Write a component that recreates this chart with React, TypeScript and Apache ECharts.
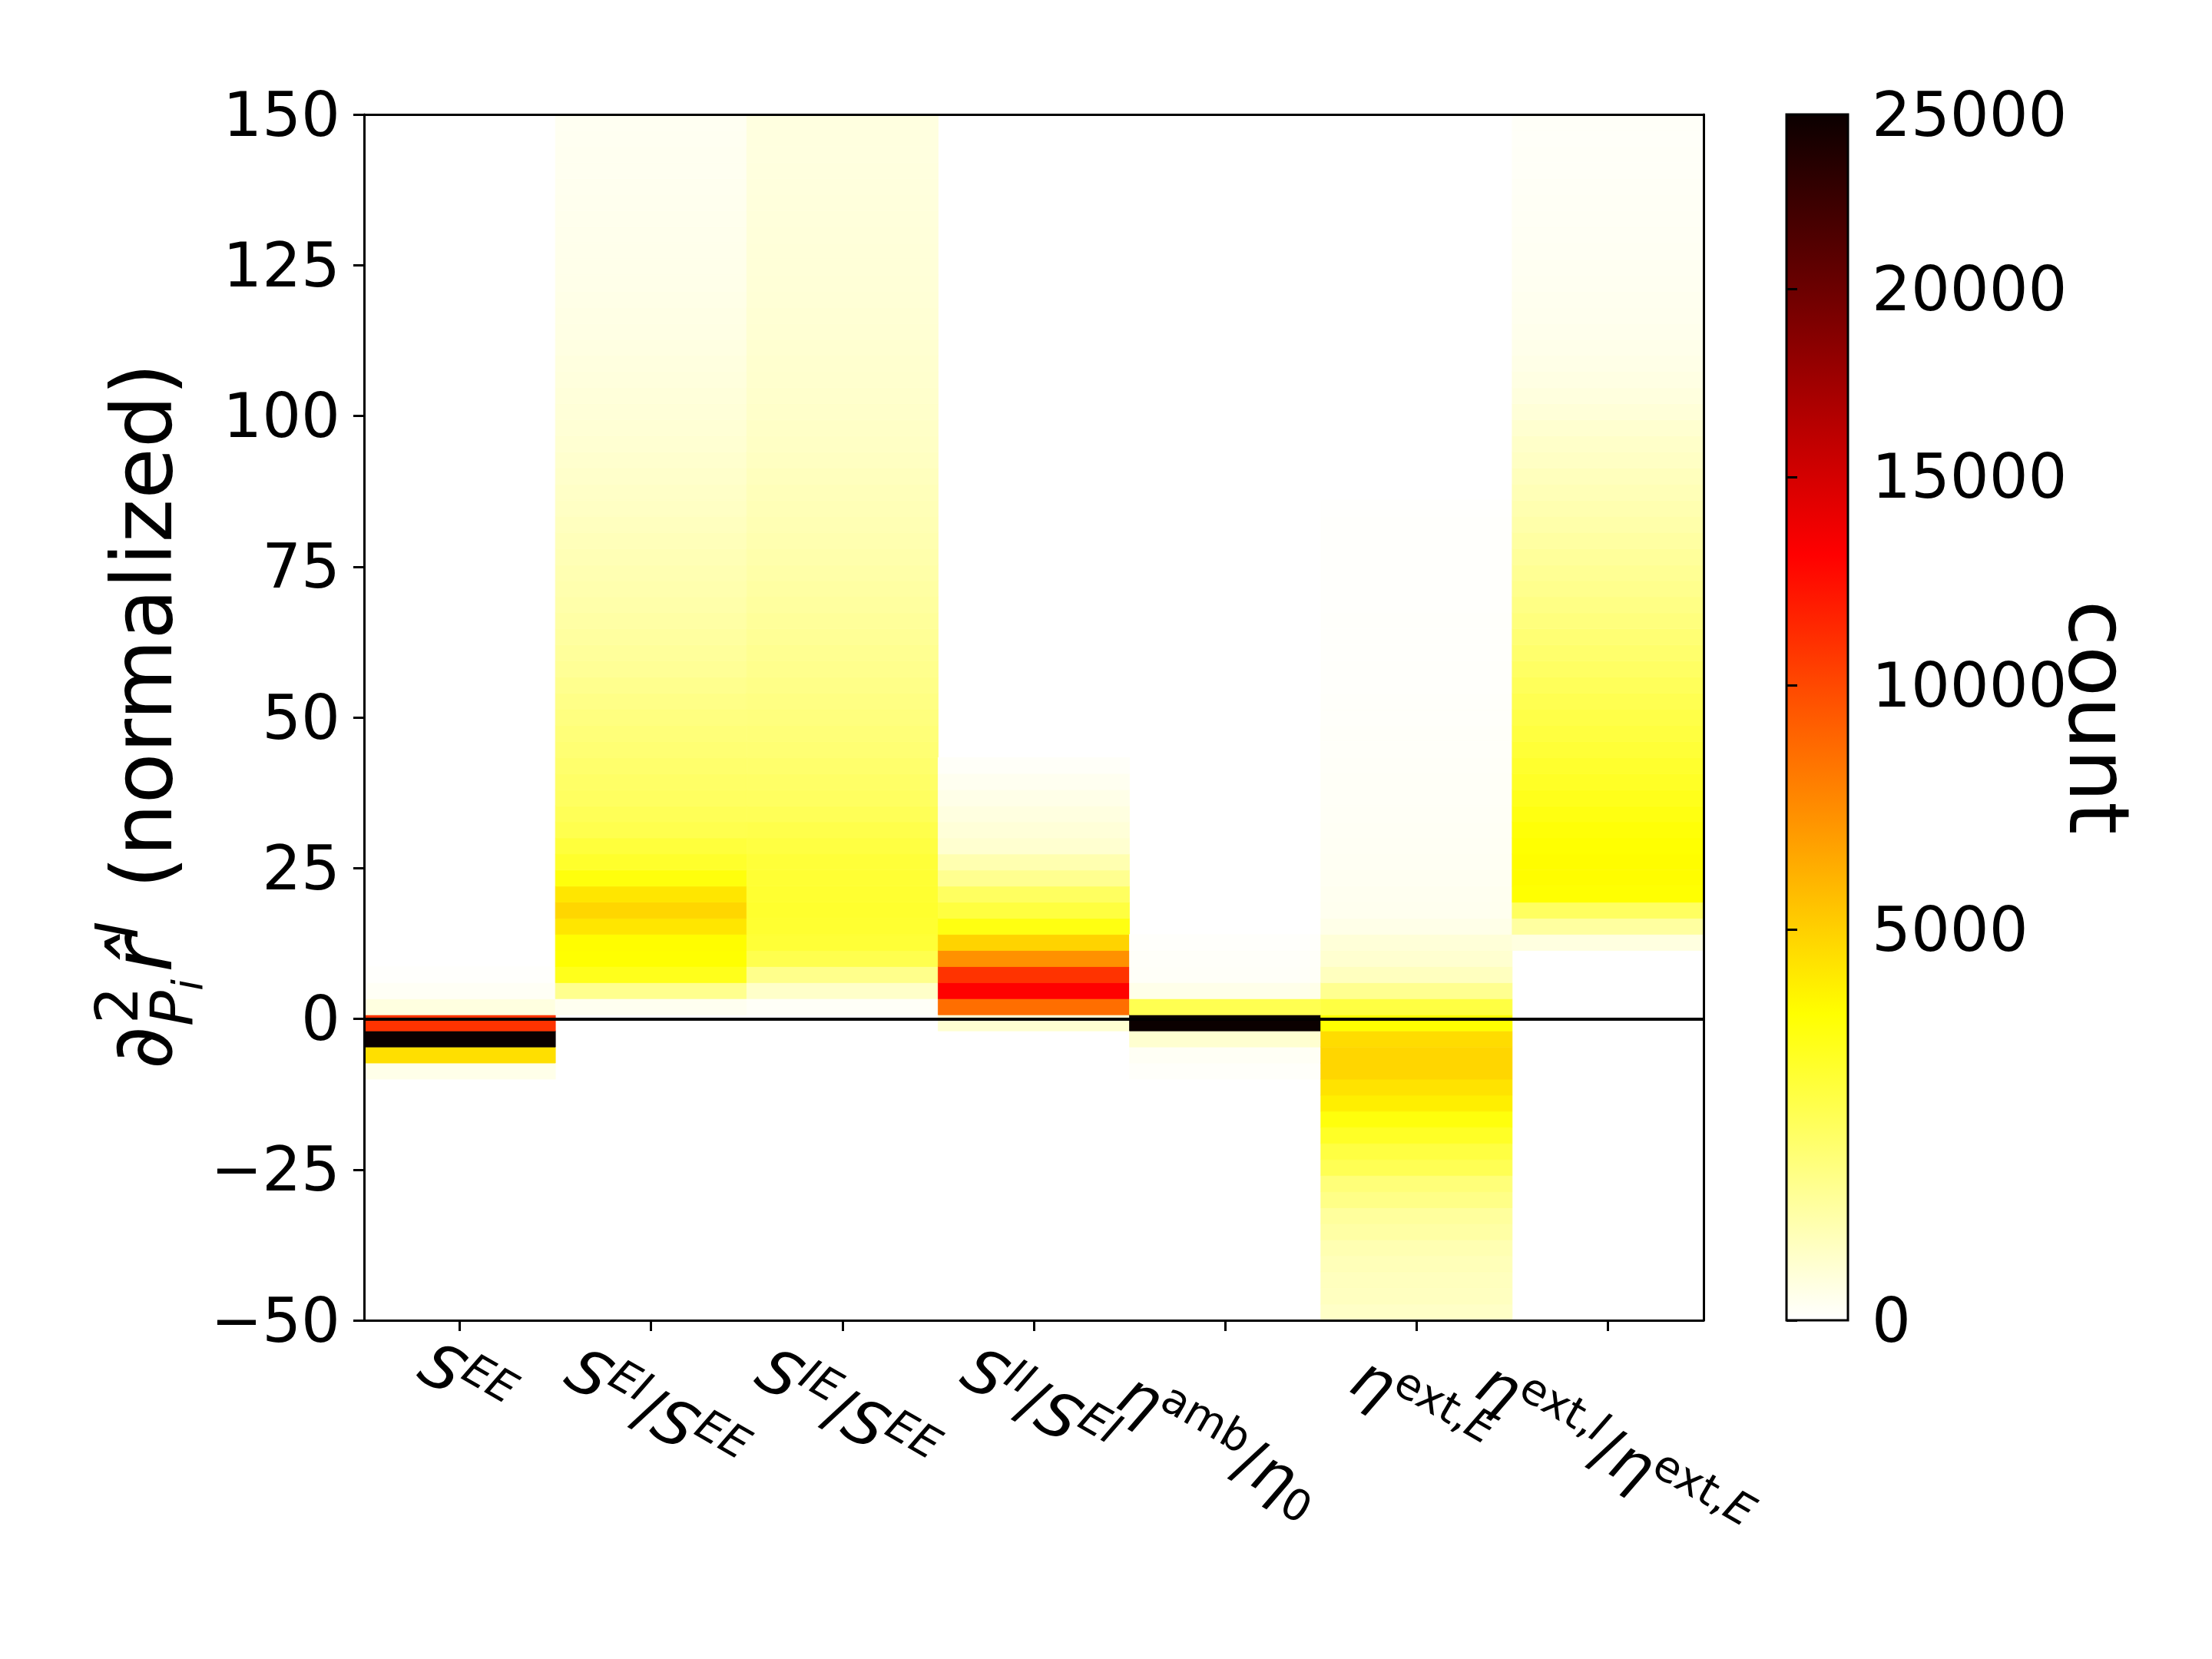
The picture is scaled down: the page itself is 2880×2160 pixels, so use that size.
import { useEffect, useRef } from 'react';
import * as echarts from 'echarts';

const FONT = 'DejaVu Sans';

// parameters on the x axis (plain names) and their math-style tick labels
const PARAMS = ['S^EE', 'S^EI/S^EE', 'S^IE/S^EE', 'S^II/S^EI', 'η^amb/η_0', 'η^ext,E', 'η^ext,I/η^ext,E'];
const PARAM_LABELS = [
  '{it|S}{supI|EE}',
  '{it|S}{supI|EI}{n|/}{it|S}{supI|EE}',
  '{it|S}{supI|IE}{n|/}{it|S}{supI|EE}',
  '{it|S}{supI|II}{n|/}{it|S}{supI|EI}',
  '{it|η}{sup|amb}{n|/}{it|η}{sub|0}',
  '{it|η}{sup|ext,}{supI|E}',
  '{it|η}{sup|ext,}{supI|I}{n|/}{it|η}{sup|ext,}{supI|E}',
];

// histogram along y: 75 bins from -50 to 150
const Y_MIN = -50;
const Y_MAX = 150;
const Y_BINS = 75;
const Y_INTERVAL = 25;

// index of the first listed bin of each column
const FIRST_BIN = [15, 19, 19, 18, 15, 0, 23];

// counts per bin
const COUNTS_S_EE = [110, 4500, 25000, 10900, 175, 36, 5];
const COUNTS_S_EI = [
  60, 1100, 3000, 3500, 3600, 4300, 4800, 4300, 3300, 2700, 2400,
  2100, 1950, 1800, 1700, 1600, 1500, 1400, 1300, 1200, 1100, 1000, 930, 860, 800, 740,
  690, 640, 590, 540, 490, 440, 400, 360, 330, 300, 270, 245, 220, 200, 180,
  160, 145, 132, 120, 110, 100, 92, 85, 78, 72, 67, 63, 59, 56, 53,
];
const COUNTS_S_IE = [
  25, 380, 1150, 2100, 2500, 2600, 2650, 2600, 2550, 2450, 2300,
  2150, 1950, 1800, 1700, 1600, 1500, 1420, 1340, 1260, 1190, 1120, 1060, 1000, 940, 880,
  820, 760, 710, 660, 620, 580, 540, 500, 460, 430, 400, 375, 355, 335, 320,
  305, 290, 275, 262, 250, 240, 232, 224, 216, 208, 200, 193, 186, 180, 175,
];
const COUNTS_S_II = [300, 8500, 13000, 10900, 7200, 4900, 3200, 2330, 1790, 1070, 660, 314, 242, 175, 113, 60, 22];
const COUNTS_ETA_AMB = [12, 36, 314, 25000, 2050, 110, 22, 18, 8];
const COUNTS_ETA_EXT_E = [
  400, 480, 500, 560, 640, 800, 900, 1200, 1400, 2000,
  2300, 2800, 3300, 4000, 4400, 4800, 4800, 4600, 3500, 2300,
  1074, 487, 314, 242, 113, 70, 60, 50, 45, 40,
  35, 30, 27, 24, 21, 18, 15, 13, 12, 11,
  10, 9, 8, 8, 7, 7, 6, 6, 5, 5, 4,
];
const COUNTS_ETA_EXT_I = [
  175, 860, 1790, 3500, 3600, 3600, 3500, 3400, 3200, 3000,
  2800, 2650, 2500, 2330, 2200, 2050, 1900, 1750, 1600, 1480,
  1350, 1230, 1120, 1020, 920, 830, 740, 660, 580, 510,
  440, 380, 314, 240, 190, 150, 120, 100, 85, 75,
  65, 58, 52, 46, 41, 37, 33, 30, 27, 24, 22, 20,
];
const COUNTS = [COUNTS_S_EE, COUNTS_S_EI, COUNTS_S_IE, COUNTS_S_II, COUNTS_ETA_AMB, COUNTS_ETA_EXT_E, COUNTS_ETA_EXT_I];

// colour scale: hot_r with power norm
const COUNT_MAX = 25000;
const GAMMA = 0.7;
const COLORBAR_TICKS = [0, 5000, 10000, 15000, 20000, 25000];

// label centre offsets from the tick foot (layout only)
const LABEL_OFFSET = [[8, 80], [6, 120], [5, 120], [7, 110], [-7, 160], [6, 115], [7, 172]];

const HOT_R = 0.365079;
const HOT_G = 0.746032;
function hot(x: number) {
  const r = x < HOT_R ? 0.0416 + (1 - 0.0416) * x / HOT_R : 1;
  const g = x < HOT_R ? 0 : x < HOT_G ? (x - HOT_R) / (HOT_G - HOT_R) : 1;
  const b = x < HOT_G ? 0 : (x - HOT_G) / (1 - HOT_G);
  return `rgb(${Math.round(r * 255)},${Math.round(g * 255)},${Math.round(b * 255)})`;
}
const norm = (c: number) => Math.min(1, Math.pow(Math.max(c, 0) / COUNT_MAX, GAMMA));
const countColor = (c: number) => hot(1 - norm(c));

const LABEL_RICH = {
  it: { fontSize: 80, fontStyle: 'italic', fontFamily: FONT, lineHeight: 96, verticalAlign: 'middle', fill: '#000' },
  n: { fontSize: 80, fontFamily: FONT, lineHeight: 96, verticalAlign: 'middle', fill: '#000' },
  sup: { fontSize: 56, fontFamily: FONT, lineHeight: 40, verticalAlign: 'top', fill: '#000' },
  supI: { fontSize: 56, fontStyle: 'italic', fontFamily: FONT, lineHeight: 40, verticalAlign: 'top', fill: '#000' },
  sub: { fontSize: 56, fontFamily: FONT, lineHeight: 40, verticalAlign: 'bottom', fill: '#000' },
};

export default function App() {
  const chartRef = useRef<HTMLDivElement>(null);

  useEffect(() => {
    if (!chartRef.current) return;
    const chart = echarts.init(chartRef.current, undefined, { renderer: 'svg' });

    const binW = (Y_MAX - Y_MIN) / Y_BINS;
    const cells: number[][] = [];
    COUNTS.forEach((list, c) => {
      list.forEach((n, k) => {
        if (n <= 0) return;
        const b = FIRST_BIN[c] + k;
        cells.push([c, Y_MIN + b * binW, Y_MIN + (b + 1) * binW, n]);
      });
    });

    const cbPos = COLORBAR_TICKS.map((t) => norm(t));
    const cbLabel = (v: number) => {
      let best = 0;
      cbPos.forEach((p, i) => {
        if (Math.abs(p - v) < Math.abs(cbPos[best] - v)) best = i;
      });
      return String(COLORBAR_TICKS[best]);
    };

    const black = { color: '#000', width: 3 };
    const tickFont = { fontSize: 80, color: '#000', fontFamily: FONT };

    const gradient = new echarts.graphic.LinearGradient(0, 0, 0, 1, [
      { offset: 0, color: hot(0) },
      { offset: HOT_R, color: hot(HOT_R) },
      { offset: HOT_G, color: hot(HOT_G) },
      { offset: 1, color: hot(1) },
    ]);

    // pieces of the y axis title, in the rotated frame of the title
    const yLabelParts = [
      { text: '∂', x: 0, y: -37, size: 108, italic: false },
      { text: '2', x: 59, y: -70, size: 76, italic: false },
      { text: 'P', x: 56, y: 2, size: 76, italic: true },
      { text: 'i', x: 102, y: 22, size: 54, italic: true },
      { text: 'r\u0302', x: 126, y: -37, size: 108, italic: true },
      { text: 'I', x: 170, y: -70, size: 76, italic: true },
      { text: '(normalized)', x: 235, y: -37, size: 108, italic: false },
    ];

    const option = {
      animation: false,
      backgroundColor: '#fff',
      textStyle: { fontFamily: FONT },
      grid: [
        { left: 474, top: 149, width: 1744, height: 1570, show: false },
        {
          left: 2326, top: 149, width: 80, height: 1570, show: true,
          backgroundColor: gradient, borderColor: '#000', borderWidth: 3,
        },
      ],
      xAxis: [
        {
          gridIndex: 0, type: 'category', data: PARAMS, boundaryGap: true, z: 10,
          axisLine: { show: true, onZero: false, lineStyle: black },
          axisTick: { show: true, alignWithLabel: true, length: 14, lineStyle: black },
          axisLabel: { show: false },
          splitLine: { show: false },
        },
        {
          gridIndex: 0, type: 'category', data: PARAMS, position: 'top', z: 10,
          axisLine: { show: true, onZero: false, lineStyle: black },
          axisTick: { show: false }, axisLabel: { show: false }, splitLine: { show: false },
        },
        { gridIndex: 1, type: 'value', min: 0, max: 1, show: false },
      ],
      yAxis: [
        {
          gridIndex: 0, type: 'value', min: Y_MIN, max: Y_MAX, interval: Y_INTERVAL, z: 10,
          axisLine: { show: true, lineStyle: black },
          axisTick: { show: true, length: 14, lineStyle: black },
          axisLabel: {
            ...tickFont, margin: 31,
            formatter: (v: number) => (v < 0 ? '\u2212' + Math.abs(v) : String(v)),
          },
          splitLine: { show: false },
        },
        {
          gridIndex: 0, type: 'value', min: Y_MIN, max: Y_MAX, interval: Y_INTERVAL, position: 'right', z: 10,
          axisLine: { show: true, lineStyle: black },
          axisTick: { show: false }, axisLabel: { show: false }, splitLine: { show: false },
        },
        {
          gridIndex: 1, type: 'value', min: 0, max: 1, position: 'right',
          axisLine: { show: false },
          axisTick: { show: true, length: 14, lineStyle: black, customValues: cbPos },
          axisLabel: { ...tickFont, margin: 31, customValues: cbPos, formatter: cbLabel },
          splitLine: { show: false },
        },
      ],
      series: [
        {
          type: 'custom',
          name: 'count',
          xAxisIndex: 0,
          yAxisIndex: 0,
          encode: { x: 0, y: [1, 2] },
          data: cells,
          silent: true,
          renderItem(params: any, api: any) {
            const xi = api.value(0);
            const lo = api.coord([xi, api.value(1)]);
            const hi = api.coord([xi, api.value(2)]);
            const w = api.size([1, 0])[0];
            const shape = echarts.graphic.clipRectByRect(
              { x: lo[0] - w / 2, y: hi[1], width: w, height: lo[1] - hi[1] },
              params.coordSys
            );
            if (!shape) return null;
            const color = countColor(api.value(3));
            return { type: 'rect', shape, style: { fill: color, stroke: color, lineWidth: 0.8 } };
          },
          markLine: {
            silent: true,
            symbol: ['none', 'none'],
            label: { show: false },
            lineStyle: { color: '#000', width: 4, type: 'solid' },
            data: [{ yAxis: 0 }],
          },
        },
        {
          type: 'custom',
          name: 'labels',
          xAxisIndex: 0,
          yAxisIndex: 0,
          encode: { x: 0, y: 1 },
          data: PARAMS.map((_, i) => [i, Y_MIN]),
          silent: true,
          z: 10,
          renderItem(_params: any, api: any) {
            const idx = api.value(0);
            const p = api.coord([idx, api.value(1)]);
            const [dx, dy] = LABEL_OFFSET[idx];
            return {
              type: 'text',
              x: p[0] + dx,
              y: p[1] + dy,
              rotation: -Math.PI / 6,
              style: {
                text: PARAM_LABELS[idx],
                rich: LABEL_RICH,
                fontSize: 80,
                fontFamily: FONT,
                fill: '#000',
                align: 'center',
                verticalAlign: 'middle',
              },
            };
          },
        },
      ],
      graphic: [
        {
          type: 'group',
          x: 222,
          y: 1392,
          rotation: Math.PI / 2,
          children: yLabelParts.map((part) => ({
            type: 'text',
            x: part.x,
            y: part.y,
            style: {
              text: part.text,
              fontSize: part.size,
              fontStyle: part.italic ? 'italic' : 'normal',
              fontFamily: FONT,
              fill: '#000',
              align: 'left',
              verticalAlign: 'middle',
            },
          })),
        },
        {
          type: 'text',
          x: 2732,
          y: 934,
          rotation: -Math.PI / 2,
          style: {
            text: 'count',
            fontSize: 108,
            fontFamily: FONT,
            fill: '#000',
            align: 'center',
            verticalAlign: 'middle',
          },
        },
      ],
    };

    chart.setOption(option as any);

    return () => {
      chart.dispose();
    };
  }, []);

  return (
    <div
      ref={chartRef}
      style={{ position: 'absolute', left: 0, top: 0, width: 2880, height: 2160 }}
    />
  );
}
